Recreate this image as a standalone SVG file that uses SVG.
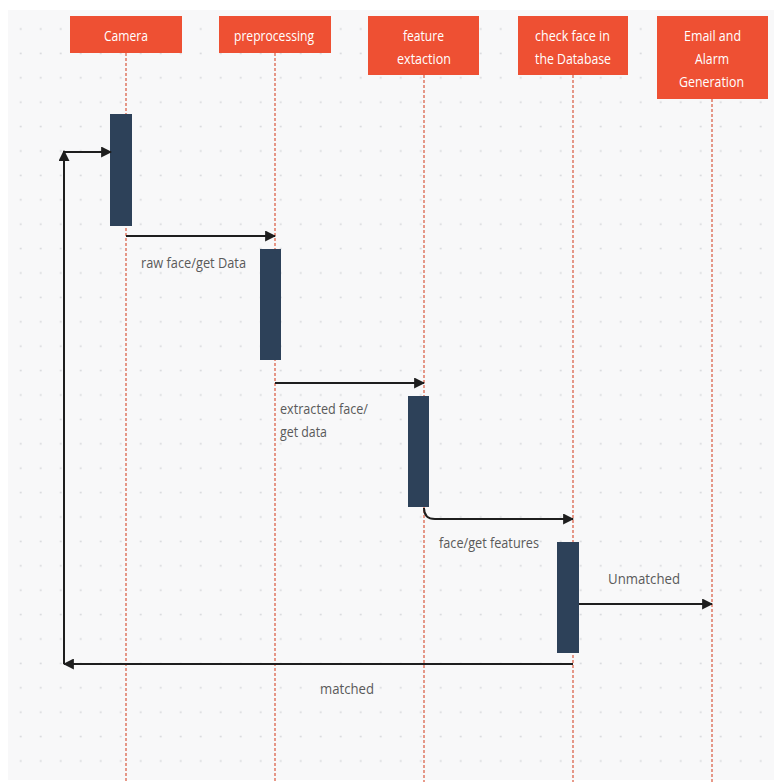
<svg xmlns="http://www.w3.org/2000/svg" width="774" height="782" viewBox="0 0 774 782">
<defs>
<pattern id="dots" x="10.7" y="16.8" width="20" height="24.4" patternUnits="userSpaceOnUse">
<circle cx="10" cy="12.2" r="0.9" fill="#d3d4d7"/>
</pattern>
<marker id="ah" viewBox="0 0 10 10" refX="9" refY="5" markerWidth="5.5" markerHeight="5.5" orient="auto" markerUnits="strokeWidth">
<path d="M0,0 L10,5 L0,10 z" fill="#1e1e1e"/>
</marker>
<style>
.hdr{fill:#ee5033;}
.hdrt{fill:#ffffff;font-family:"Open Sans","DejaVu Sans",sans-serif;font-size:15px;text-anchor:middle;}
.life{stroke:#d9583d;stroke-width:1.2;stroke-dasharray:3 2;fill:none;}
.act{fill:#2d4159;}
.msg{stroke:#1e1e1e;stroke-width:2;fill:none;marker-end:url(#ah);}
.lbl{fill:#5a5a5a;font-family:"Open Sans","DejaVu Sans",sans-serif;font-size:15px;}
</style>
</defs>
<rect x="0" y="0" width="774" height="782" fill="#ffffff"/>
<rect x="8" y="10" width="766" height="770" fill="#f8f8f9"/>
<rect x="8" y="10" width="766" height="770" fill="url(#dots)"/>

<g id="camera">
<line class="life" x1="126" y1="53" x2="126" y2="782"/>
<rect class="hdr" x="70" y="16" width="112" height="37"/>
<text class="hdrt" x="126" y="41" textLength="44" lengthAdjust="spacingAndGlyphs">Camera</text>
<rect class="act" x="110" y="114" width="22" height="112"/>
</g>
<g id="preprocessing">
<line class="life" x1="275" y1="53" x2="275" y2="782"/>
<rect class="hdr" x="219" y="16" width="112" height="37"/>
<text class="hdrt" x="274" y="41" textLength="80" lengthAdjust="spacingAndGlyphs">preprocessing</text>
<rect class="act" x="260" y="249" width="21" height="111"/>
</g>
<g id="feature">
<line class="life" x1="424" y1="75" x2="424" y2="782"/>
<rect class="hdr" x="368" y="16" width="111" height="59"/>
<text class="hdrt" x="423.5" y="41" textLength="41" lengthAdjust="spacingAndGlyphs">feature</text>
<text class="hdrt" x="424" y="64" textLength="54" lengthAdjust="spacingAndGlyphs">extaction</text>
<rect class="act" x="408" y="396" width="21" height="111"/>
</g>
<g id="database">
<line class="life" x1="573" y1="75" x2="573" y2="782"/>
<rect class="hdr" x="518" y="16" width="110" height="59"/>
<text class="hdrt" x="572.5" y="41" textLength="75" lengthAdjust="spacingAndGlyphs">check face in</text>
<text class="hdrt" x="573" y="64" textLength="76" lengthAdjust="spacingAndGlyphs">the Database</text>
<rect class="act" x="557" y="542" width="22" height="111"/>
</g>
<g id="alarm">
<line class="life" x1="712" y1="99" x2="712" y2="782"/>
<rect class="hdr" x="657" y="16" width="111" height="83"/>
<text class="hdrt" x="712.5" y="41" textLength="57" lengthAdjust="spacingAndGlyphs">Email and</text>
<text class="hdrt" x="712" y="64" textLength="34" lengthAdjust="spacingAndGlyphs">Alarm</text>
<text class="hdrt" x="711.5" y="87" textLength="65" lengthAdjust="spacingAndGlyphs">Generation</text>
</g>

<g id="connectors">
<path class="msg" d="M126,236 H275"/>
<text class="lbl" x="141" y="268" textLength="105" lengthAdjust="spacingAndGlyphs">raw face/get Data</text>
<path class="msg" d="M275,383 H424"/>
<text class="lbl" x="280" y="414" textLength="88" lengthAdjust="spacingAndGlyphs">extracted face/</text>
<text class="lbl" x="280" y="437" textLength="47" lengthAdjust="spacingAndGlyphs">get data</text>
<path class="msg" d="M424,508 Q424,519 435,519 H573"/>
<text class="lbl" x="439" y="548" textLength="100" lengthAdjust="spacingAndGlyphs">face/get features</text>
<path class="msg" d="M579,604 H712"/>
<text class="lbl" x="608" y="584" textLength="72" lengthAdjust="spacingAndGlyphs">Unmatched</text>
<path class="msg" d="M573,664 H64"/>
<text class="lbl" x="320" y="694" textLength="54" lengthAdjust="spacingAndGlyphs">matched</text>
<path class="msg" d="M64,664 V151"/>
<path class="msg" d="M63,152 H111"/>
</g>
</svg>
